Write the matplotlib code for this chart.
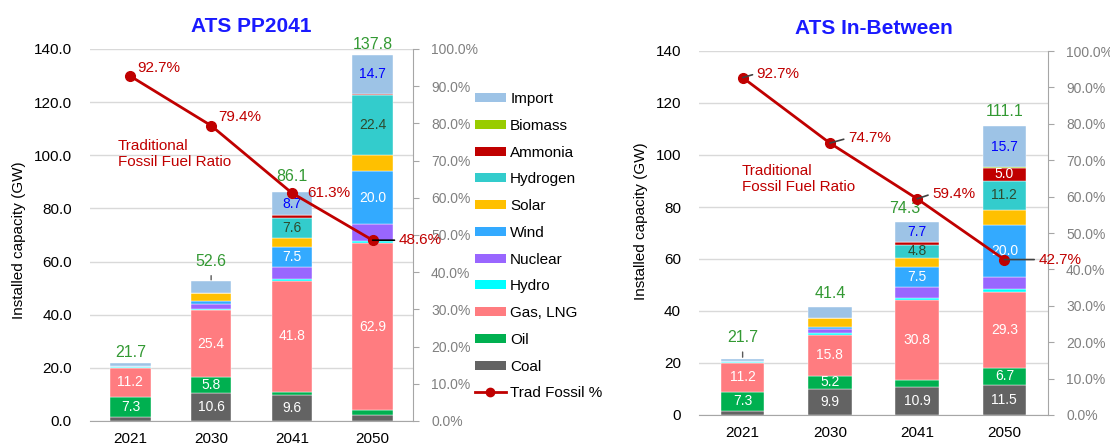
import matplotlib.pyplot as plt
from matplotlib.patches import Patch
from matplotlib.lines import Line2D
from matplotlib.ticker import FuncFormatter, MultipleLocator

plt.rcParams['font.family'] = ['Liberation Sans', 'DejaVu Sans']

years = ['2021', '2030', '2041', '2050']
sources = ['Coal', 'Oil', 'Gas, LNG', 'Hydro', 'Nuclear', 'Wind', 'Solar',
           'Hydrogen', 'Ammonia', 'Biomass', 'Import']

# ATS PP2041 (GW)
pp_coal     = [1.6, 10.6, 9.6, 2.2]
pp_oil      = [7.3, 5.8, 1.4, 1.9]
pp_gas      = [11.2, 25.4, 41.8, 62.9]
pp_hydro    = [0.3, 0.5, 0.6, 0.6]
pp_nuclear  = [0.0, 1.9, 4.4, 6.4]
pp_wind     = [0.2, 0.8, 7.5, 20.0]
pp_solar    = [0.2, 3.1, 3.6, 6.2]
pp_hydrogen = [0.0, 0.0, 7.6, 22.4]
pp_ammonia  = [0.0, 0.0, 0.9, 0.5]
pp_biomass  = [0.0, 0.0, 0.0, 0.0]
pp_import   = [0.9, 4.5, 8.7, 14.7]
pp_fossil   = [92.7, 79.4, 61.3, 48.6]   # %

# ATS In-Between (GW)
ib_coal     = [1.6, 9.9, 10.9, 11.5]
ib_oil      = [7.3, 5.2, 2.4, 6.7]
ib_gas      = [11.2, 15.8, 30.8, 29.3]
ib_hydro    = [0.3, 0.6, 0.8, 1.1]
ib_nuclear  = [0.0, 1.5, 4.5, 4.5]
ib_wind     = [0.2, 1.0, 7.5, 20.0]
ib_solar    = [0.2, 3.2, 3.6, 5.8]
ib_hydrogen = [0.0, 0.0, 4.8, 11.2]
ib_ammonia  = [0.0, 0.0, 1.2, 5.0]
ib_biomass  = [0.0, 0.0, 0.1, 0.3]
ib_import   = [0.9, 4.2, 7.7, 15.7]
ib_fossil   = [92.7, 74.7, 59.4, 42.7]   # %

pp_series = [pp_coal, pp_oil, pp_gas, pp_hydro, pp_nuclear, pp_wind, pp_solar,
             pp_hydrogen, pp_ammonia, pp_biomass, pp_import]
ib_series = [ib_coal, ib_oil, ib_gas, ib_hydro, ib_nuclear, ib_wind, ib_solar,
             ib_hydrogen, ib_ammonia, ib_biomass, ib_import]

colors = {'Coal': '#636363', 'Oil': '#00B050', 'Gas, LNG': '#FF7C80', 'Hydro': '#00FFFF',
          'Nuclear': '#9966FF', 'Wind': '#33AAFF', 'Solar': '#FFC000', 'Hydrogen': '#33CCCC',
          'Ammonia': '#C00000', 'Biomass': '#99CC00', 'Import': '#9DC3E6'}
# cor dos rótulos dentro das barras (só estas séries recebem rótulo)
label_colors = {'Coal': 'white', 'Oil': 'white', 'Gas, LNG': 'white', 'Wind': 'white',
                'Hydrogen': '#2E4A2E', 'Ammonia': 'white', 'Import': '#0000FF'}
RED = '#C00000'
GRAY = '#808080'

W, H = 1110, 443
fig = plt.figure(figsize=(W / 100, H / 100), dpi=100)


def px_axes(x0, y0, x1, y1):
    return fig.add_axes([x0 / W, 1 - y1 / H, (x1 - x0) / W, (y1 - y0) / H])


def draw_panel(ax, series, fossil, title, yfmt, tot_off, pct_off, pct_leader, leader_col):
    x = list(range(len(years)))
    bottom = [0.0] * len(years)
    for name, vals in zip(sources, series):
        ax.bar(x, vals, 0.5, bottom=bottom, color=colors[name], zorder=2,
               edgecolor='white', linewidth=0.3)
        if name in label_colors:
            for i, v in enumerate(vals):
                if v >= 4.6:
                    ax.text(i, bottom[i] + v / 2, f'{v:.1f}', ha='center', va='center',
                            fontsize=10, color=label_colors[name], zorder=5)
        bottom = [b + v for b, v in zip(bottom, vals)]

    # totais em verde
    for i, t in enumerate(bottom):
        dx, dy, lead = tot_off[i]
        kw = {}
        if lead:
            kw['arrowprops'] = dict(arrowstyle='-', color='#595959', lw=1,
                                    shrinkA=3, shrinkB=1, relpos=(0.5, 0))
        ax.annotate(f'{t:.1f}', (i, t), xytext=(dx, dy), textcoords='offset pixels',
                    ha='center', va='center', fontsize=11.5, color='#339933',
                    zorder=6, annotation_clip=False, **kw)

    ax.set_xlim(-0.5, 3.5)
    ax.set_ylim(0, 140)
    ax.yaxis.set_major_locator(MultipleLocator(20))
    ax.yaxis.set_major_formatter(FuncFormatter(yfmt))
    ax.set_xticks(x)
    ax.set_xticklabels(years)
    ax.tick_params(axis='y', length=0, pad=13, labelsize=11)
    ax.tick_params(axis='x', length=0, pad=8, labelsize=11)
    ax.grid(axis='y', color='#D9D9D9', lw=1, zorder=0)
    ax.set_axisbelow(True)
    for s in ['top', 'left', 'right']:
        ax.spines[s].set_visible(False)
    ax.spines['bottom'].set_color('#A6A6A6')
    ax.set_ylabel('Installed capacity (GW)', fontsize=11)
    ax.set_title(title, fontsize=15, fontweight='bold', color='#1A1AFF', pad=12)

    ax2 = ax.twinx()
    ax2.set_ylim(0, 100)
    ax2.yaxis.set_major_locator(MultipleLocator(10))
    ax2.yaxis.set_major_formatter(FuncFormatter(lambda v, p: f'{v:.1f}%'))
    ax2.tick_params(axis='y', colors='#A6A6A6', labelcolor=GRAY, length=4, pad=9, labelsize=10)
    for s in ['top', 'left', 'bottom']:
        ax2.spines[s].set_visible(False)
    ax2.spines['right'].set_color('#A6A6A6')
    ax2.plot(x, fossil, color=RED, lw=2, marker='o', ms=7, zorder=4)
    for i, p in enumerate(fossil):
        dx, dy = pct_off[i]
        kw = {}
        if pct_leader[i]:
            kw['arrowprops'] = dict(arrowstyle='-', color=leader_col, lw=1.2,
                                    shrinkA=1, shrinkB=0, relpos=(0, 0.5))
        ax2.annotate(f'{p:.1f}%', (i, p), xytext=(dx, dy), textcoords='offset pixels',
                     ha='left', va='center', fontsize=11, color=RED, zorder=6,
                     annotation_clip=False, **kw)
    return ax2


ax_l = px_axes(90, 49, 413, 421)
draw_panel(ax_l, pp_series, pp_fossil, 'ATS PP2041', lambda v, p: f'{v:.1f}',
           tot_off=[(0, 11, False), (0, 20, True), (0, 16, False), (0, 10, False)],
           pct_off=[(7, 8), (7, 9), (15, 0), (26, 0)],
           pct_leader=[False, False, False, True], leader_col='black')
ax_l.yaxis.set_label_coords(-0.198, 0.487)

ax_r = px_axes(699, 51, 1048, 415)
draw_panel(ax_r, ib_series, ib_fossil, 'ATS In-Between', lambda v, p: f'{v:.0f}',
           tot_off=[(0, 21, True), (0, 14, False), (-12, 13, False), (0, 15, False)],
           pct_off=[(14, 4), (18, 5), (15, 5), (34, 0)],
           pct_leader=[True, True, True, True], leader_col='#404040')
ax_r.yaxis.set_label_coords(-0.146, 0.533)

fig.text(118 / W, 1 - 154 / H, 'Traditional\nFossil Fuel Ratio', color=RED, fontsize=11,
         va='center', ha='left', linespacing=1.25)
fig.text(742 / W, 1 - 179 / H, 'Traditional\nFossil Fuel Ratio', color=RED, fontsize=11,
         va='center', ha='left', linespacing=1.25)

handles = [Patch(facecolor=colors[s], label=s) for s in reversed(sources)]
handles.append(Line2D([0], [0], color=RED, lw=2, marker='o', ms=6, label='Trad Fossil %'))
fig.legend(handles=handles, loc='upper left', bbox_to_anchor=(475 / W, 1 - 92 / H),
           frameon=False, fontsize=11, labelspacing=0.835, handlelength=2.0,
           handleheight=0.55, handletextpad=0.3, borderaxespad=0, borderpad=0)

fig.savefig('out.png', dpi=100)
